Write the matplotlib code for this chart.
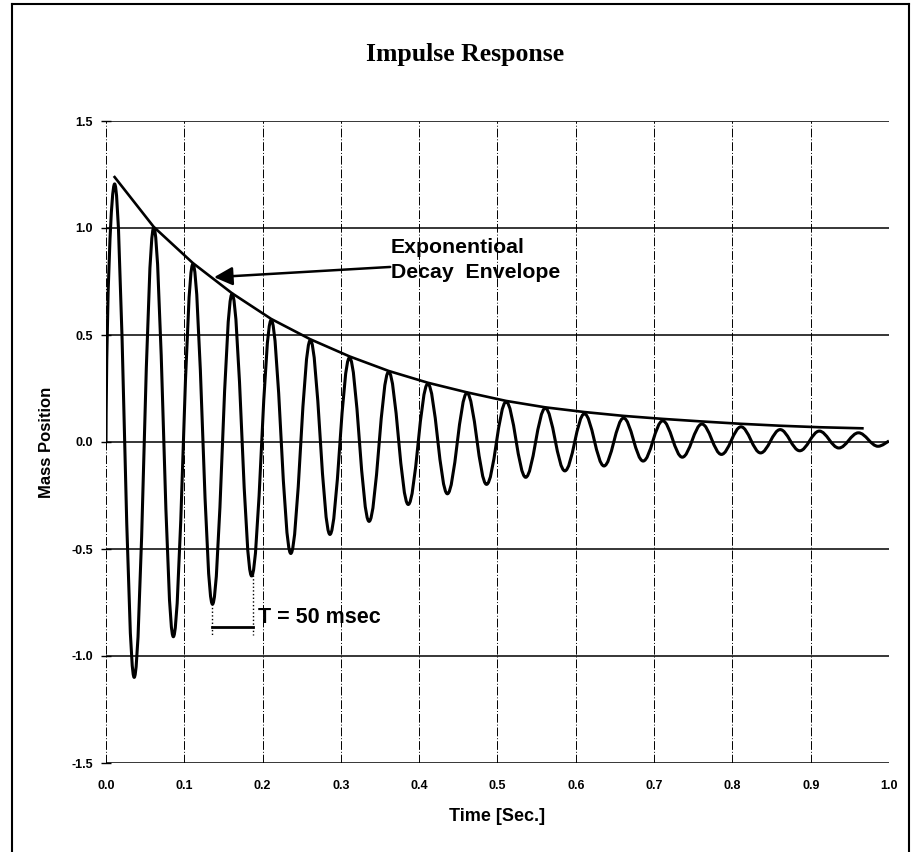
import numpy as np
import matplotlib
matplotlib.use('Agg')
import matplotlib.pyplot as plt
from matplotlib.path import Path
from matplotlib.patches import PathPatch
from matplotlib.lines import Line2D

plt.rcParams['font.family'] = ['Liberation Sans', 'DejaVu Sans']
plt.rcParams['font.weight'] = 'bold'

# --- data ---
peak_t = [0.011, 0.061, 0.111, 0.161, 0.211, 0.261, 0.311, 0.361, 0.411, 0.461,
          0.511, 0.561, 0.611, 0.661, 0.711, 0.761, 0.811, 0.861, 0.911, 0.961]
peak_y = [1.206, 1.002, 0.832, 0.692, 0.570, 0.476, 0.394, 0.328, 0.272, 0.229,
          0.188, 0.158, 0.132, 0.112, 0.099, 0.084, 0.071, 0.058, 0.051, 0.043]
trough_t = [0.036, 0.086, 0.136, 0.186, 0.236, 0.286, 0.336, 0.386, 0.436, 0.486,
            0.536, 0.586, 0.636, 0.686, 0.736, 0.786, 0.836, 0.886, 0.936, 0.986]
trough_y = [-1.10, -0.91, -0.758, -0.626, -0.521, -0.432, -0.371, -0.292, -0.242, -0.198,
            -0.165, -0.135, -0.112, -0.089, -0.071, -0.058, -0.051, -0.041, -0.028, -0.020]
start_pt = (0.0, 0.0)
end_pt = (1.0, 0.005)

env_t = [0.011, 0.061, 0.111, 0.161, 0.211, 0.261, 0.311, 0.361, 0.411, 0.461,
         0.511, 0.561, 0.611, 0.661, 0.711, 0.761, 0.811, 0.861, 0.911, 0.966]
env_y = [1.238, 1.005, 0.836, 0.695, 0.575, 0.480, 0.400, 0.332, 0.277, 0.232,
         0.192, 0.162, 0.140, 0.122, 0.108, 0.096, 0.085, 0.076, 0.069, 0.064]

x_ticks = [0.0, 0.1, 0.2, 0.3, 0.4, 0.5, 0.6, 0.7, 0.8, 0.9, 1.0]
y_ticks = [-1.5, -1.0, -0.5, 0.0, 0.5, 1.0, 1.5]

fig = plt.figure(figsize=(9.12, 8.52), dpi=100)
ax = fig.add_axes([106/912, 1-763/852, 783/912, 642/852])

# extrema in order, joined by smooth bezier half-waves
ext = [start_pt]
for pt, py, tt, ty in zip(peak_t, peak_y, trough_t, trough_y):
    ext.append((pt, py))
    ext.append((tt, ty))
ext.append(end_pt)

verts = [ext[0]]
codes = [Path.MOVETO]
k = 1 - 2/np.pi
for i in range(1, len(ext)):
    (t0, y0), (t1, y1) = ext[i-1], ext[i]
    d = (t1 - t0) * k
    if i == 1:
        c1 = (t0 + 0.2*d, y0 + 0.6*(y1 - y0))
    else:
        c1 = (t0 + d, y0)
    if i == len(ext) - 1:
        c2 = (t1 - 0.5*d, y1 - 0.2*(y1 - y0))
    else:
        c2 = (t1 - d, y1)
    verts += [c1, c2, (t1, y1)]
    codes += [Path.CURVE4]*3
ax.add_patch(PathPatch(Path(verts, codes), fill=False, lw=2.2, ec='black',
                       joinstyle='round', zorder=3))

ax.plot(env_t, env_y, color='black', lw=1.9, zorder=3)

# grid
for yv in y_ticks:
    ax.axhline(yv, color='black', lw=1.1, zorder=1)
for xv in x_ticks:
    ax.axvline(xv, color='black', lw=0.7, ls=(0, (9, 2, 1, 2)), zorder=1)

ax.set_xlim(0, 1.0)
ax.set_ylim(-1.5, 1.5)
ax.set_xticks(x_ticks)
ax.set_yticks(y_ticks)
ax.set_xticklabels([f'{v:.1f}' for v in x_ticks])
ax.set_yticklabels([f'{v:.1f}' for v in y_ticks])
ax.tick_params(axis='y', direction='inout', length=7, width=1, labelsize=9, pad=6)
ax.tick_params(axis='x', length=0, labelsize=9, pad=12)
for s in ax.spines.values():
    s.set_visible(False)

ax.set_xlabel('Time [Sec.]', fontsize=13, fontweight='bold')
ax.set_ylabel('Mass Position', fontsize=12, fontweight='bold')
ax.xaxis.label.set_va('center')
ax.yaxis.label.set_va('center')
ax.xaxis.set_label_coords(0.5, -0.084)
ax.yaxis.set_label_coords(-0.0766, 0.5)

fig.text(465/912, 1-54/852, 'Impulse Response', ha='center', va='center',
         family='Liberation Serif', fontsize=18.5, fontweight='bold')

# annotations
ax.annotate('', xy=(0.138, 0.77), xytext=(0.363, 0.818),
            arrowprops=dict(arrowstyle='-|>', lw=1.8, mutation_scale=28,
                            color='black', shrinkA=0, shrinkB=0))
ax.text(0.364, 0.85, 'Exponentioal\nDecay  Envelope', ha='left', va='center',
        fontsize=15.3, fontweight='bold', linespacing=1.42)

ax.plot([0.135, 0.135], [-0.74, -0.90], color='black', lw=1.0, ls=':')
ax.plot([0.188, 0.188], [-0.62, -0.90], color='black', lw=1.0, ls=':')
ax.plot([0.135, 0.188], [-0.863, -0.863], color='black', lw=2.0)
ax.text(0.194, -0.82, 'T = 50 msec', ha='left', va='center',
        fontsize=15.5, fontweight='bold')

# page frame
fig.add_artist(Line2D([12/912, 12/912], [0, 1-4/852], transform=fig.transFigure, color='black', lw=1.5))
fig.add_artist(Line2D([12/912, 909/912], [1-4/852, 1-4/852], transform=fig.transFigure, color='black', lw=1.5))
fig.add_artist(Line2D([909/912, 909/912], [0, 1-4/852], transform=fig.transFigure, color='black', lw=1.5))

fig.savefig('out.png', dpi=100)
